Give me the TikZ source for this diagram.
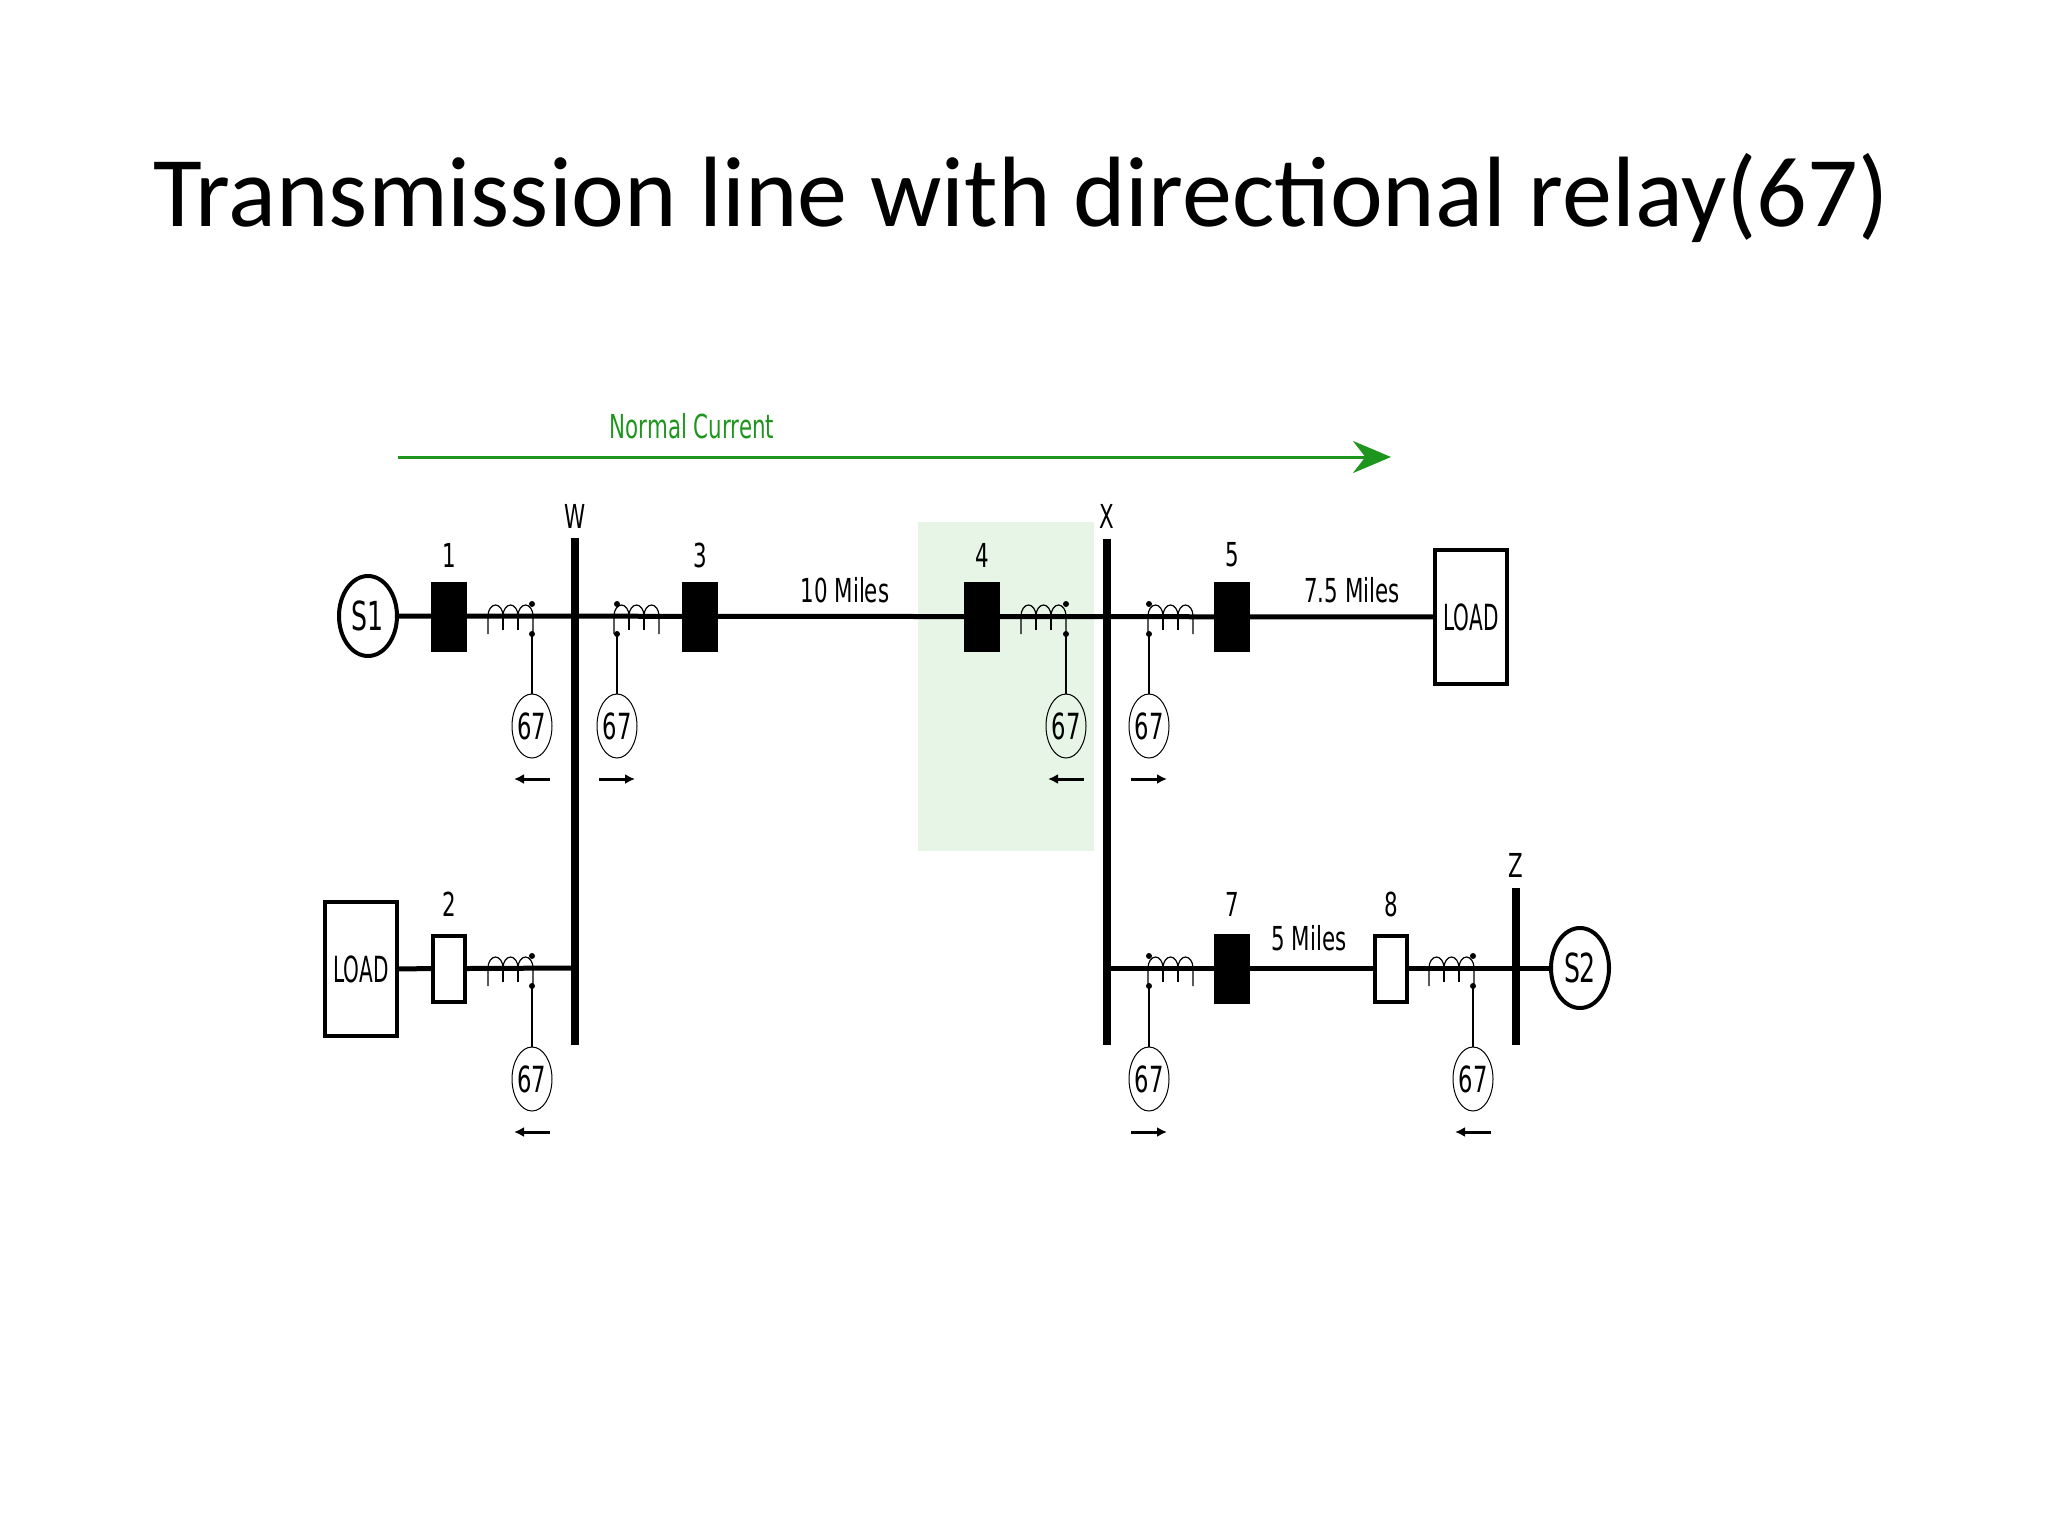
\documentclass[tikz,border=0pt]{standalone}
\usepackage{fontspec}
\setmainfont{Carlito}
\newfontfamily\dia{DejaVu Sans Condensed}
\usetikzlibrary{shapes.geometric,arrows.meta}
\definecolor{ngreen}{RGB}{30,150,30}
\definecolor{boxgreen}{RGB}{230,245,230}
\begin{document}
\begin{tikzpicture}[x=1pt,y=-1pt,
  lbl/.style={font=\dia\fontsize{33}{35}\selectfont, xscale=0.72, inner sep=0},
  bus/.style={line width=8pt},
  wire/.style={line width=5pt},
  brk/.style={draw, line width=4pt, minimum width=32pt, minimum height=66pt, inner sep=0},
  cbk/.style={brk, fill=black},
  wbk/.style={brk, fill=white},
  relay/.style={ellipse, draw, line width=1pt, minimum width=40pt, minimum height=64pt, inner sep=0},
  rtxt/.style={font=\dia\fontsize{36}{38}\selectfont, xscale=0.7, inner sep=0},
  src/.style={ellipse, draw, line width=4pt, minimum width=58pt, minimum height=80pt, inner sep=0},
  stxt/.style={font=\dia\fontsize{40}{42}\selectfont, xscale=0.7, inner sep=0},
  load/.style={draw, line width=4pt, fill=white, minimum width=72pt, minimum height=134pt, inner sep=0},
  ltxt/.style={font=\dia\fontsize{36}{38}\selectfont, xscale=0.62, inner sep=0},
  dirarr/.style={line width=3pt, -{Latex[length=10pt,width=10pt]}},
  coil/.style={line width=1.2pt}
]
\useasboundingbox (0,0) rectangle (2048,1536);
\fill[white] (0,0) rectangle (2048,1536);
\node[font=\fontsize{100}{110}\selectfont] (title) at (1021,198) {Transmission line with directional relay(67)};

% green highlight
\fill[boxgreen] (918,522) rectangle (1094,851);

% normal current arrow
\coordinate (nc1) at (398,457);
\coordinate (nc2) at (1391,457);
\draw[ngreen, line width=3pt, -{Stealth[length=38pt,width=32pt]}] (nc1) -- (nc2);
\node[lbl, text=ngreen] (nclab) at (692,426) {Normal Current};

% buses
\coordinate (W1) at (575,538); \coordinate (W2) at (575,1045);
\coordinate (X1) at (1107,539); \coordinate (X2) at (1107,1045);
\coordinate (Z1) at (1516,888); \coordinate (Z2) at (1516,1045);
\draw[bus] (W1) -- (W2);
\draw[bus] (X1) -- (X2);
\draw[bus] (Z1) -- (Z2);
\node[lbl] (Wl) at (575,516) {W};
\node[lbl] (Xl) at (1107,516) {X};
\node[lbl] (Zl) at (1516,865) {Z};

% nodes
\node[src] (S1) at (368,616) {};
\node[stxt] at (S1) {S1};
\node[src] (S2) at (1580,968) {};
\node[stxt] at (S2) {S2};
\node[load] (L1) at (1471,617) {};
\node[ltxt] at (L1) {LOAD};
\node[load] (L2) at (361,969) {};
\node[ltxt] at (L2) {LOAD};
\coordinate (Wb) at (575,968);
\coordinate (Xb) at (1107,968);

\draw[wire] (S1) -- (L1);
\draw[wire] (L2) -- (Wb);
\draw[wire] (Xb) -- (S2);

\node[cbk] (B1) at (449,617) {};
\node[cbk] (B3) at (700,617) {};
\node[cbk] (B4) at (982,617) {};
\node[cbk] (B5) at (1232,617) {};
\node[wbk] (B2) at (449,969) {};
\node[cbk] (B7) at (1232,969) {};
\node[wbk] (B8) at (1391,969) {};
\node[lbl] at (449,555) {1};
\node[lbl] at (700,555) {3};
\node[lbl] at (982,555) {4};
\node[lbl] at (1232,555) {5};
\node[lbl] at (449,904) {2};
\node[lbl] at (1232,904) {7};
\node[lbl] at (1391,904) {8};
\node[lbl] at (845,590) {10 Miles};
\node[lbl] at (1352,590) {7.5 Miles};
\node[lbl] at (1309,938) {5 Miles};

% CTs: #1 left x, #2 y, #3 dot x, relay name
\newcommand{\myct}[4]{%
  \draw[coil] (#1,#2+18) -- (#1,#2) arc[start angle=180,end angle=360,x radius=7.5,y radius=11] arc[start angle=180,end angle=360,x radius=7.5,y radius=11] arc[start angle=180,end angle=360,x radius=7.5,y radius=11] -- (#1+45,#2+18);
  \draw[coil] (#1+15,#2) -- (#1+15,#2+14);
  \draw[coil] (#1+30,#2) -- (#1+30,#2+14);
  \fill (#3,#2-12) circle (3pt);
  \coordinate (#4c) at (#3,#2+18);
  \fill (#4c) circle (3pt);
}
\newcommand{\myrelay}[4]{% name, x, y, dir (1 right, -1 left)
  \node[relay] (#1) at (#2,#3) {};
  \node[rtxt] at (#1) {67};
  \draw[coil] (#1c) -- (#1);
  \coordinate (#1a) at (#2-18*#4,#3+53);
  \coordinate (#1b) at (#2+18*#4,#3+53);
  \draw[dirarr] (#1a) -- (#1b);
}
\myct{488}{616}{532}{R1}  \myrelay{R1}{532}{726}{-1}
\myct{614}{616}{617}{R3}  \myrelay{R3}{617}{726}{1}
\myct{1021}{616}{1066}{R4} \myrelay{R4}{1066}{726}{-1}
\myct{1148}{616}{1149}{R5} \myrelay{R5}{1149}{726}{1}
\myct{488}{968}{532}{R2}  \myrelay{R2}{532}{1079}{-1}
\myct{1148}{968}{1149}{R7} \myrelay{R7}{1149}{1079}{1}
\myct{1429}{968}{1473}{R8} \myrelay{R8}{1473}{1079}{-1}
\end{tikzpicture}
\end{document}
